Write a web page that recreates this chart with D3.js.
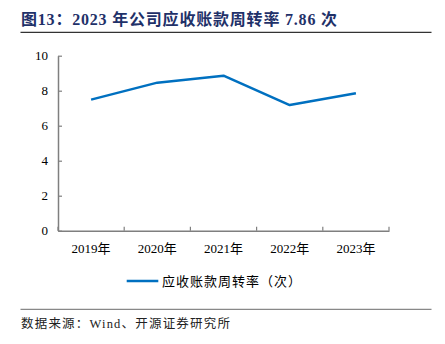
<!DOCTYPE html>
<html><head><meta charset="utf-8">
<script src="https://cdn.jsdelivr.net/npm/d3@7"></script>
<style>body{margin:0;background:#fff}svg{display:block}</style>
</head><body>
<script>
const categories = ["2019年","2020年","2021年","2022年","2023年"];
const values = [7.49, 8.46, 8.86, 7.18, 7.86];
const yTicks = [0,2,4,6,8,10];
const seriesName = "应收账款周转率（次）";
const title = "图13：2023 年公司应收账款周转率 7.86 次";
const source = "数据来源：Wind、开源证券研究所";

const W=445,H=344;
const svg=d3.select("body").append("svg").attr("width",W).attr("height",H);
const serif = "'Times New Roman','Liberation Serif','Noto Sans CJK SC',serif";
const x=d3.scaleBand().domain(categories).range([58,389]);
const y=d3.scaleLinear().domain([0,10]).range([230.7,55.7]);

svg.append("text").attr("x",21).attr("y",25).attr("fill","#1F3169")
  .attr("font-family",serif).attr("font-weight","bold").attr("font-size",16)
  .attr("letter-spacing",0.8).text(title);
svg.append("line").attr("x1",20.5).attr("x2",431.5).attr("y1",32.3).attr("y2",32.3).attr("stroke","#333").attr("stroke-width",1.2);

const gy=svg.append("g").attr("transform","translate(58,0)")
  .call(d3.axisLeft(y).tickValues(yTicks).tickSizeInner(-4).tickSizeOuter(0).tickPadding(10).tickFormat(d3.format("d")));
const gx=svg.append("g").attr("transform","translate(0,230.7)")
  .call(d3.axisBottom(x).tickSize(0).tickPadding(13));
[gy,gx].forEach(g=>{g.selectAll("path").attr("stroke","#7f7f7f").attr("stroke-width",1.5);
  g.selectAll("line").attr("stroke","#7f7f7f").attr("stroke-width",1.2);
  g.selectAll("text").attr("fill","#000").attr("font-family",serif).attr("font-size",13);});
const bounds=categories.map(c=>x(c)).concat([x.range()[1]]);
svg.append("g").selectAll("line").data(bounds).join("line")
  .attr("x1",d=>d).attr("x2",d=>d).attr("y1",230.7).attr("y2",226.7)
  .attr("stroke","#7f7f7f").attr("stroke-width",1.2);

const line=d3.line().x((d,i)=>x(categories[i])+x.bandwidth()/2).y(d=>y(d));
svg.append("path").datum(values).attr("d",line).attr("fill","none")
  .attr("stroke","#0070C0").attr("stroke-width",2.5).attr("stroke-linejoin","round");

svg.append("line").attr("x1",126.7).attr("x2",158.3).attr("y1",281).attr("y2",281)
  .attr("stroke","#0070C0").attr("stroke-width",2.5);
svg.append("text").attr("x",162).attr("y",285.5).attr("font-family",serif).attr("font-size",13)
  .attr("letter-spacing",1).text(seriesName);

svg.append("line").attr("x1",20.5).attr("x2",431.5).attr("y1",309.3).attr("y2",309.3).attr("stroke","#888").attr("stroke-width",1.2);
svg.append("text").attr("x",21).attr("y",327.5).attr("font-family",serif).attr("font-size",12.5).attr("fill","#222")
  .attr("letter-spacing",1.2).text(source);
</script>
</body></html>
